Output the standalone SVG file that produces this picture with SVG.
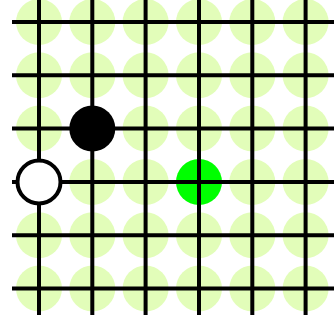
<svg xmlns="http://www.w3.org/2000/svg" width="334" height="326" viewBox="0 0 334 326">
<style>
.hint{fill:#e2fdb9}
.ln{stroke:#000;stroke-width:4}
</style>
<rect width="334" height="326" fill="#fff"/>
<g id="hints">
<g id="row1"><circle class="hint" cx="39" cy="22" r="23"/><circle class="hint" cx="92.3" cy="22" r="23"/><circle class="hint" cx="145.6" cy="22" r="23"/><circle class="hint" cx="199" cy="22" r="23"/><circle class="hint" cx="252.3" cy="22" r="23"/><circle class="hint" cx="305.6" cy="22" r="23"/></g>
<g id="row2"><circle class="hint" cx="39" cy="75.3" r="23"/><circle class="hint" cx="92.3" cy="75.3" r="23"/><circle class="hint" cx="145.6" cy="75.3" r="23"/><circle class="hint" cx="199" cy="75.3" r="23"/><circle class="hint" cx="252.3" cy="75.3" r="23"/><circle class="hint" cx="305.6" cy="75.3" r="23"/></g>
<g id="row3"><circle class="hint" cx="39" cy="128.6" r="23"/><circle class="hint" cx="145.6" cy="128.6" r="23"/><circle class="hint" cx="199" cy="128.6" r="23"/><circle class="hint" cx="252.3" cy="128.6" r="23"/><circle class="hint" cx="305.6" cy="128.6" r="23"/></g>
<g id="row4"><circle class="hint" cx="92.3" cy="182" r="23"/><circle class="hint" cx="145.6" cy="182" r="23"/><circle class="hint" cx="252.3" cy="182" r="23"/><circle class="hint" cx="305.6" cy="182" r="23"/></g>
<g id="row5"><circle class="hint" cx="39" cy="235.3" r="23"/><circle class="hint" cx="92.3" cy="235.3" r="23"/><circle class="hint" cx="145.6" cy="235.3" r="23"/><circle class="hint" cx="199" cy="235.3" r="23"/><circle class="hint" cx="252.3" cy="235.3" r="23"/><circle class="hint" cx="305.6" cy="235.3" r="23"/></g>
<g id="row6"><circle class="hint" cx="39" cy="288.6" r="23"/><circle class="hint" cx="92.3" cy="288.6" r="23"/><circle class="hint" cx="145.6" cy="288.6" r="23"/><circle class="hint" cx="199" cy="288.6" r="23"/><circle class="hint" cx="252.3" cy="288.6" r="23"/><circle class="hint" cx="305.6" cy="288.6" r="23"/></g>
</g>
<g id="green-stone"><circle cx="199" cy="182" r="23" fill="#00ff00"/></g>
<g id="grid" class="ln">
<line x1="12" y1="22" x2="334" y2="22"/>
<line x1="12" y1="75.3" x2="334" y2="75.3"/>
<line x1="12" y1="128.6" x2="334" y2="128.6"/>
<line x1="12" y1="182" x2="334" y2="182"/>
<line x1="12" y1="235.3" x2="334" y2="235.3"/>
<line x1="12" y1="288.6" x2="334" y2="288.6"/>
<line x1="39" y1="0" x2="39" y2="315"/>
<line x1="92.3" y1="0" x2="92.3" y2="315"/>
<line x1="145.6" y1="0" x2="145.6" y2="315"/>
<line x1="199" y1="0" x2="199" y2="315"/>
<line x1="252.3" y1="0" x2="252.3" y2="315"/>
<line x1="305.6" y1="0" x2="305.6" y2="315"/>
</g>
<g id="black-stone"><circle cx="92.3" cy="128.6" r="23" fill="#000"/></g>
<g id="white-stone"><circle cx="39" cy="182" r="21.5" fill="#fff" stroke="#000" stroke-width="4"/></g>
</svg>
